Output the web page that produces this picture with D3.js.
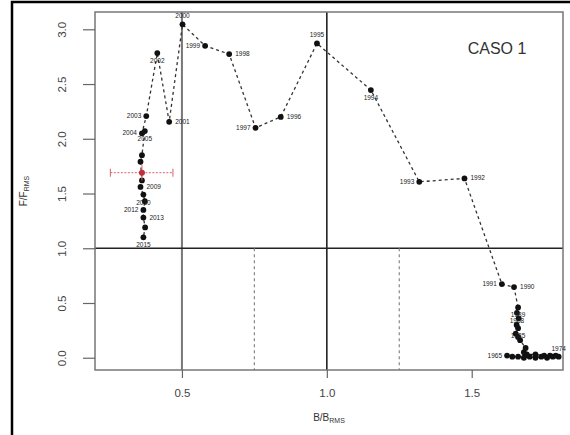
<!DOCTYPE html>
<html><head><meta charset="utf-8">
<script src="https://cdn.jsdelivr.net/npm/d3@7/dist/d3.min.js"></script>
<style>body{margin:0;background:#fff}svg{display:block}</style>
</head><body>
<svg id="c" width="570" height="435"></svg>
<script>
// ---- data ----
const years = [1965,1966,1967,1968,1969,1970,1971,1972,1973,1974,1975,1976,1977,1978,1979,1980,1981,1982,1983,1984,1985,1986,1987,1988,1989,1990,1991,1992,1993,1994,1995,1996,1997,1998,1999,2000,2001,2002,2003,2004,2005,2006,2007,2008,2009,2010,2011,2012,2013,2014,2015];
const bValues = [1.622,1.64,1.66,1.68,1.70,1.72,1.74,1.76,1.78,1.80,1.79,1.77,1.75,1.72,1.69,1.68,1.686,1.667,1.66,1.652,1.66,1.655,1.662,1.656,1.66,1.646,1.604,1.475,1.319,1.152,0.966,0.841,0.754,0.663,0.580,0.502,0.456,0.415,0.377,0.362,0.372,0.362,0.357,0.362,0.357,0.367,0.372,0.367,0.367,0.373,0.367];
const fValues = [0.02,0.01,0.01,0.0,0.01,0.0,0.01,0.0,0.01,0.01,0.02,0.02,0.02,0.03,0.03,0.05,0.09,0.16,0.19,0.22,0.27,0.30,0.36,0.41,0.46,0.645,0.673,1.638,1.607,2.445,2.871,2.20,2.10,2.774,2.849,3.045,2.155,2.783,2.207,2.05,2.07,1.85,1.79,1.62,1.56,1.49,1.43,1.35,1.28,1.19,1.10];
const labelPos = ["left","","","","","","","","","above","","","","","","","","","","","below","","","below","below","right","left","right","left","below","above","right","left","right","left","above","right","below","left","left","below","","","","right","below","","left","right","","below"];
const xTicks = [0.5,1.0,1.5];
const yTicks = [0.0,0.5,1.0,1.5,2.0,2.5,3.0];
const refX = [0.5,1.0];
const refY = [1.0];
const dashedX = [0.75,1.25];
const current = {b:0.362, f:1.69, bLo:0.253, bHi:0.469, fLo:1.62, fHi:1.76};
const title = "CASO 1";

// ---- chart ----
const svg = d3.select("#c");
const L=95,R=563,T=12,B=370;
const x = d3.scaleLinear().domain([0.2,1.815]).range([L,R]);
const y = d3.scaleLinear().domain([-0.112,3.158]).range([B,T]);
const font = "Liberation Sans, Arial, sans-serif";

// outer frame
svg.append("rect").attr("x",12).attr("y",2).attr("width",570).attr("height",450)
  .attr("fill","none").attr("stroke","#000").attr("stroke-width",2.5);

// reference lines
svg.selectAll(".rx").data(refX).join("line")
  .attr("x1",d=>x(d)).attr("x2",d=>x(d)).attr("y1",T).attr("y2",B)
  .attr("stroke",d=>d===0.5?"#777":"#222").attr("stroke-width",d=>d===0.5?2:1.6);
svg.selectAll(".ry").data(refY).join("line")
  .attr("x1",L).attr("x2",R).attr("y1",d=>y(d)).attr("y2",d=>y(d))
  .attr("stroke","#222").attr("stroke-width",1.6);
svg.selectAll(".dx").data(dashedX).join("line")
  .attr("x1",d=>x(d)).attr("x2",d=>x(d)).attr("y1",y(1.0)).attr("y2",B)
  .attr("stroke","#888").attr("stroke-width",1.2).attr("stroke-dasharray","3,3");

// box
svg.append("rect").attr("x",L).attr("y",T).attr("width",R-L).attr("height",B-T)
  .attr("fill","none").attr("stroke","#777").attr("stroke-width",1.5);

// axes
const xa = svg.append("g").attr("transform",`translate(0,${B})`)
  .call(d3.axisBottom(x).tickValues(xTicks).tickSize(8).tickPadding(11).tickFormat(d3.format(".1f")));
xa.select(".domain").remove();
xa.selectAll("line").attr("stroke","#666").attr("stroke-width",1.2);
xa.selectAll("text").attr("font-family",font).attr("font-size",11.5).attr("fill","#444");

const ya = svg.append("g").attr("transform",`translate(${L},0)`)
  .call(d3.axisLeft(y).tickValues(yTicks).tickSize(12).tickFormat(d3.format(".1f")));
ya.select(".domain").remove();
ya.selectAll("line").attr("stroke","#666").attr("stroke-width",1.2);
ya.selectAll("text").attr("font-family",font).attr("font-size",11.5).attr("fill","#444")
  .attr("text-anchor","middle").attr("x",0).attr("y",0)
  .attr("transform","translate(-33,0) rotate(-90)").attr("dy","0.35em");

// axis titles
const xt = svg.append("text").attr("x",(L+R)/2).attr("y",421).attr("text-anchor","middle")
  .attr("font-family",font).attr("font-size",10).attr("fill","#333");
xt.append("tspan").text("B/B");
xt.append("tspan").attr("font-size",7).attr("dy",2).text("RMS");
const yt = svg.append("text").attr("transform",`translate(27,${(T+B)/2}) rotate(-90)`).attr("text-anchor","middle")
  .attr("font-family",font).attr("font-size",10).attr("fill","#333");
yt.append("tspan").text("F/F");
yt.append("tspan").attr("font-size",7).attr("dy",2).text("RMS");

// title
svg.append("text").attr("x",497).attr("y",54).attr("text-anchor","middle")
  .attr("font-family",font).attr("font-size",16).attr("fill","#333").text(title);

// trajectory
const pts = years.map((yr,i)=>({yr,b:bValues[i],f:fValues[i],pos:labelPos[i]}));
svg.append("path").datum(pts)
  .attr("d",d3.line().x(d=>x(d.b)).y(d=>y(d.f)))
  .attr("fill","none").attr("stroke","#333").attr("stroke-width",1.3).attr("stroke-dasharray","3,3");
svg.selectAll(".pt").data(pts).join("circle")
  .attr("cx",d=>x(d.b)).attr("cy",d=>y(d.f)).attr("r",2.9).attr("fill","#111");

const off = {left:[-5,2,"end"],right:[6,2,"start"],above:[0,-6,"middle"],below:[0,10,"middle"]};
svg.selectAll(".lb").data(pts.filter(d=>d.pos)).join("text")
  .attr("x",d=>x(d.b)+off[d.pos][0]).attr("y",d=>y(d.f)+off[d.pos][1])
  .attr("text-anchor",d=>off[d.pos][2])
  .attr("font-family",font).attr("font-size",6.5).attr("fill","#222").text(d=>d.yr);

// current estimate with CI
const red = "#d6616b";
svg.append("line").attr("x1",x(current.bLo)).attr("x2",x(current.bHi)).attr("y1",y(current.f)).attr("y2",y(current.f))
  .attr("stroke",red).attr("stroke-width",1).attr("stroke-dasharray","2,1.5");
svg.append("line").attr("x1",x(current.b)).attr("x2",x(current.b)).attr("y1",y(current.fLo)).attr("y2",y(current.fHi))
  .attr("stroke",red).attr("stroke-width",1);
[current.bLo,current.bHi].forEach(v=>svg.append("line").attr("x1",x(v)).attr("x2",x(v))
  .attr("y1",y(current.f)-4).attr("y2",y(current.f)+4).attr("stroke",red).attr("stroke-width",1));
svg.append("circle").attr("cx",x(current.b)).attr("cy",y(current.f)).attr("r",3).attr("fill","#c0303a");
</script>
</body></html>
